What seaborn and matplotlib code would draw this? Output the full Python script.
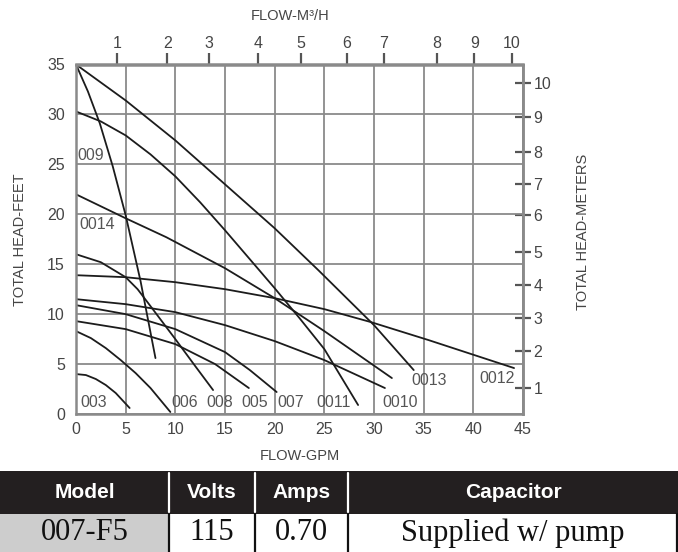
import matplotlib
matplotlib.use('Agg')
import matplotlib.pyplot as plt
from matplotlib import font_manager
from matplotlib.patches import Rectangle
import seaborn as sns
import pandas as pd

# ---------------- data ----------------
gpm_003 = [0, 1, 2, 3, 4, 5.4]
ft_003 = [4.0, 3.9, 3.5, 2.9, 2.1, 0.6]
gpm_006 = [0, 1.5, 3, 4.5, 6, 7.5, 9.5]
ft_006 = [8.3, 7.6, 6.6, 5.4, 4.1, 2.6, 0.2]
gpm_008 = [0, 2.5, 5, 6.2, 7.5, 10, 12, 13.8]
ft_008 = [16.0, 15.2, 13.7, 12.5, 10.8, 7.5, 4.8, 2.4]
gpm_005 = [0, 5, 10, 14, 17.4]
ft_005 = [9.3, 8.5, 7.0, 5.0, 2.6]
gpm_007 = [0, 5, 10, 15, 17.5, 20.2]
ft_007 = [10.9, 10.0, 8.5, 6.2, 4.4, 2.2]
gpm_0010 = [0, 5, 10, 15, 20, 25, 31.1]
ft_0010 = [11.5, 11.0, 10.2, 8.9, 7.3, 5.4, 2.6]
gpm_0011 = [0, 2.5, 5, 7.5, 10, 12.5, 15, 20, 22.5, 25, 28.4]
ft_0011 = [30.3, 29.3, 27.9, 26.0, 23.8, 21.2, 18.4, 12.6, 9.6, 6.5, 0.9]
gpm_0012 = [0, 5, 10, 15, 20, 25, 29.7, 35.5, 44.1]
ft_0012 = [13.9, 13.7, 13.2, 12.5, 11.6, 10.5, 9.2, 7.4, 4.6]
gpm_0013 = [0, 5, 10, 15, 20, 24.4, 30, 34]
ft_0013 = [35.0, 31.4, 27.4, 23.0, 18.6, 14.4, 8.9, 4.4]
gpm_0014 = [0, 5, 9.1, 15, 20, 25, 31.8]
ft_0014 = [22.0, 19.6, 17.7, 14.6, 11.6, 8.3, 3.6]
gpm_009 = [0, 1.2, 2.4, 3.7, 5, 6.5, 8]
ft_009 = [35.0, 32.3, 29.1, 24.8, 19.9, 13.3, 5.6]

models = ['003', '006', '008', '005', '007', '0010', '0011', '0012', '0013', '0014', '009']
curve_gpm = [gpm_003, gpm_006, gpm_008, gpm_005, gpm_007, gpm_0010, gpm_0011,
             gpm_0012, gpm_0013, gpm_0014, gpm_009]
curve_ft = [ft_003, ft_006, ft_008, ft_005, ft_007, ft_0010, ft_0011,
            ft_0012, ft_0013, ft_0014, ft_009]

# curve label annotations (text, x in GPM, y in feet)
label_text = ['009', '0014', '003', '006', '008', '005', '007', '0011', '0010', '0013', '0012']
label_x = [0.1, 0.3, 0.4, 9.6, 13.1, 16.6, 20.3, 24.2, 30.8, 33.8, 40.6]
label_y = [25.9, 19.0, 1.2, 1.2, 1.2, 1.2, 1.2, 1.2, 1.2, 3.4, 3.6]

bottom_ticks = list(range(0, 46, 5))
left_ticks = list(range(0, 36, 5))
# secondary scales: tick positions as drawn in the reference
m3h_labels = ['1', '2', '3', '4', '5', '6', '7', '8', '9', '10']
m3h_at_gpm = [4.13, 9.2, 13.4, 18.3, 22.65, 27.3, 31.0, 36.3, 40.1, 43.9]
meter_labels = ['1', '2', '3', '4', '5', '6', '7', '8', '9', '10']
meter_at_ft = [2.63, 6.3, 9.57, 12.9, 16.2, 19.9, 23.07, 26.2, 29.7, 33.1]

table_header = ['Model', 'Volts', 'Amps', 'Capacitor']
table_row = ['007-F5', '115', '0.70', 'Supplied w/ pump']

# ---------------- figure ----------------
sns.set_theme(style='white')
plt.rcParams['font.family'] = ['Liberation Sans', 'DejaVu Sans']

installed = {f.name for f in font_manager.fontManager.ttflist}
if 'Liberation Sans Narrow' in installed:
    head_family, head_size = 'Liberation Sans Narrow', 18
else:
    head_family, head_size = 'Liberation Sans', 15

W, H = 678, 552
fig = plt.figure(figsize=(W / 100, H / 100), dpi=100)
L, R, T, B = 76, 523, 64.5, 414
ax = fig.add_axes([L / W, 1 - B / H, (R - L) / W, (B - T) / H])

rows = []
for m, xs, ys in zip(models, curve_gpm, curve_ft):
    for x, y in zip(xs, ys):
        rows.append({'model': m, 'gpm': x, 'ft': y})
df = pd.DataFrame(rows)

sns.lineplot(data=df, x='gpm', y='ft', units='model', estimator=None, sort=False,
             color='#1c1c1c', linewidth=1.3, ax=ax, legend=False)

ax.set_xlim(0, 45)
ax.set_ylim(0, 35)
ax.set_xticks(bottom_ticks)
ax.set_yticks(left_ticks)
ax.grid(True, color='#8a8a8a', linewidth=1.3)
ax.set_axisbelow(True)
tick_col = '#454545'
ax.tick_params(length=0, labelsize=11.5, labelcolor=tick_col)
ax.tick_params(axis='x', pad=6)
ax.tick_params(axis='y', pad=8)
for s in ax.spines.values():
    s.set_visible(True)
    s.set_color('#8a8a8a')
    s.set_linewidth(1.8)

for t, x, y in zip(label_text, label_x, label_y):
    ax.text(x, y, t, fontsize=11.5, color='#555555', ha='left', va='center')

ax.set_xlabel('FLOW-GPM', fontsize=10.5, color=tick_col)
ax.xaxis.set_label_coords(0.5, (B - 456) / (B - T))
ax.xaxis.label.set_va('center')
ax.set_ylabel('TOTAL HEAD-FEET', fontsize=10.5, color=tick_col)
ax.yaxis.set_label_coords((20 - L) / (R - L), 0.5)
ax.yaxis.label.set_va('center')
ax.yaxis.label.set_ha('center')

top = ax.secondary_xaxis('top')
top.set_xticks(m3h_at_gpm, labels=m3h_labels)
top.tick_params(direction='out', length=8, width=1.6, color='#555555',
                labelsize=11.5, labelcolor=tick_col, pad=2)
top.spines['top'].set_color('#8a8a8a')
top.spines['top'].set_linewidth(1.8)
fig.text(290 / W, 1 - 16 / H, 'FLOW-M³/H', fontsize=10.5, color=tick_col,
         ha='center', va='center')

right = ax.secondary_yaxis('right')
right.set_yticks(meter_at_ft, labels=meter_labels)
right.tick_params(direction='inout', length=11, width=1.6, color='#555555',
                  labelsize=11.5, labelcolor=tick_col, pad=2)
right.spines['right'].set_color('#8a8a8a')
right.spines['right'].set_linewidth(1.8)
fig.text(583 / W, 1 - 232 / H, 'TOTAL HEAD-METERS', fontsize=10.5, color=tick_col,
         rotation=90, ha='center', va='center')

# ---------------- spec table ----------------
tb_top = 471
tb = fig.add_axes([0, 0, 1, (H - tb_top) / H])
tb.set_xlim(0, W)
tb.set_ylim(0, H - tb_top)
tb.axis('off')
body_h = 38
head_h = (H - tb_top) - body_h
col_edges = [0, 169, 255, 348, W]
tb.add_patch(Rectangle((0, body_h), W, head_h, color='#231f20', lw=0))
tb.add_patch(Rectangle((0, 0), col_edges[1], body_h, color='#cdcdcd', lw=0))
for xe in col_edges[1:-1]:
    tb.plot([xe, xe], [body_h + 2, H - tb_top - 2], color='white', lw=1.6)
for xe in col_edges[1:]:
    xx = min(xe, W - 1)
    tb.plot([xx, xx], [0, body_h], color='#111111', lw=1.6)
for i in range(4):
    cx = (col_edges[i] + col_edges[i + 1]) / 2
    tb.text(cx, body_h + head_h / 2, table_header[i], color='white', fontsize=head_size,
            fontweight='bold', ha='center', va='center', family=head_family)
    tb.text(cx, body_h / 2, table_row[i], color='#111111', fontsize=22,
            ha='center', va='center', family='Liberation Serif')

fig.savefig('out.png', dpi=100)
